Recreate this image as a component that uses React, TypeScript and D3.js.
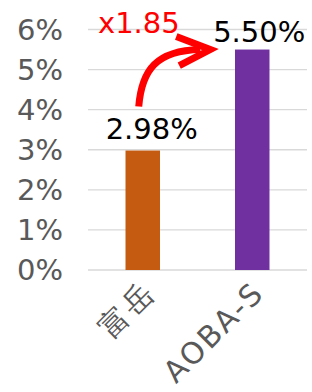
import * as d3 from "d3";

const categories = ["富岳", "AOBA-S"];
const values = [0.0298, 0.055];
const valueLabels = ["2.98%", "5.50%"];
const barColors = ["#C55A11", "#7030A0"];
const yTicks = [0, 0.01, 0.02, 0.03, 0.04, 0.05, 0.06];
const ratioLabel = "x1.85";

export default function App() {
  const width = 312;
  const height = 392;
  const marginLeft = 88;
  const marginRight = 5;
  const yTop = 29.5;
  const yBottom = 270;
  const font = "'DejaVu Sans', Verdana, sans-serif";

  const x = d3
    .scaleBand()
    .domain(categories)
    .range([marginLeft, width - marginRight])
    .paddingInner(0.685)
    .paddingOuter(0.3425);

  const y = d3.scaleLinear().domain([0, 0.06]).range([yBottom, yTop]);
  const fmt = d3.format(".0%");

  // nudges for the data labels (they sit a bit right of the bars)
  const labelDx = [9, 7];
  const labelDy = [-12, -8];

  // arrow from the small label up to the big one
  const x0 = x(categories[0])! + x.bandwidth() / 2;
  const x1 = x(categories[1])! + x.bandwidth() / 2;
  const sx = x0 - 4;
  const sy = y(values[0]) - 44;
  const tx = x1 - 42;
  const ty = y(values[1]);
  const arrowPath = `M${sx},${sy} C${sx + 3},${ty + 20} ${sx + 18},${ty + 1} ${tx - 10},${ty}`;

  return (
    <svg width={width} height={height} style={{ position: "absolute", left: 0, top: 0 }}>
      {/* grid */}
      {yTicks.map((t) => (
        <line
          key={t}
          x1={marginLeft}
          x2={width - marginRight}
          y1={y(t)}
          y2={y(t)}
          stroke="#d9d9d9"
          strokeWidth={1.3}
        />
      ))}
      {/* y labels */}
      {yTicks.map((t) => (
        <text
          key={t}
          x={63}
          y={y(t)}
          dy="0.36em"
          textAnchor="end"
          fontFamily={font}
          fontSize={29}
          fill="#595959"
        >
          {fmt(t)}
        </text>
      ))}
      {/* bars */}
      {categories.map((c, i) => (
        <rect
          key={c}
          x={x(c)}
          y={y(values[i])}
          width={x.bandwidth()}
          height={y(0) - y(values[i])}
          fill={barColors[i]}
        />
      ))}
      {/* value labels */}
      {categories.map((c, i) => (
        <text
          key={c}
          x={x(c)! + x.bandwidth() / 2 + labelDx[i]}
          y={y(values[i]) + labelDy[i]}
          textAnchor="middle"
          fontFamily={font}
          fontSize={29}
          fill="#000"
        >
          {valueLabels[i]}
        </text>
      ))}
      {/* x labels */}
      {categories.map((c) => {
        const cx = x(c)! + x.bandwidth() / 2 + 6;
        const cy = yBottom + 17;
        return (
          <text
            key={c}
            transform={`translate(${cx},${cy}) rotate(-45)`}
            dy="0.36em"
            textAnchor="end"
            fontFamily={font}
            fontSize={30}
            letterSpacing={2.2}
            fill="#595959"
          >
            {c}
          </text>
        );
      })}
      {/* arrow */}
      <path d={arrowPath} fill="none" stroke="#FF0000" strokeWidth={7} />
      <polyline
        points={`${tx - 34},${ty - 13} ${tx},${ty} ${tx - 31},${ty + 16}`}
        fill="none"
        stroke="#FF0000"
        strokeWidth={7}
        strokeLinejoin="miter"
      />
      <text x={98} y={33} fontFamily={font} fontSize={29} fill="#FF0000">
        {ratioLabel}
      </text>
    </svg>
  );
}
